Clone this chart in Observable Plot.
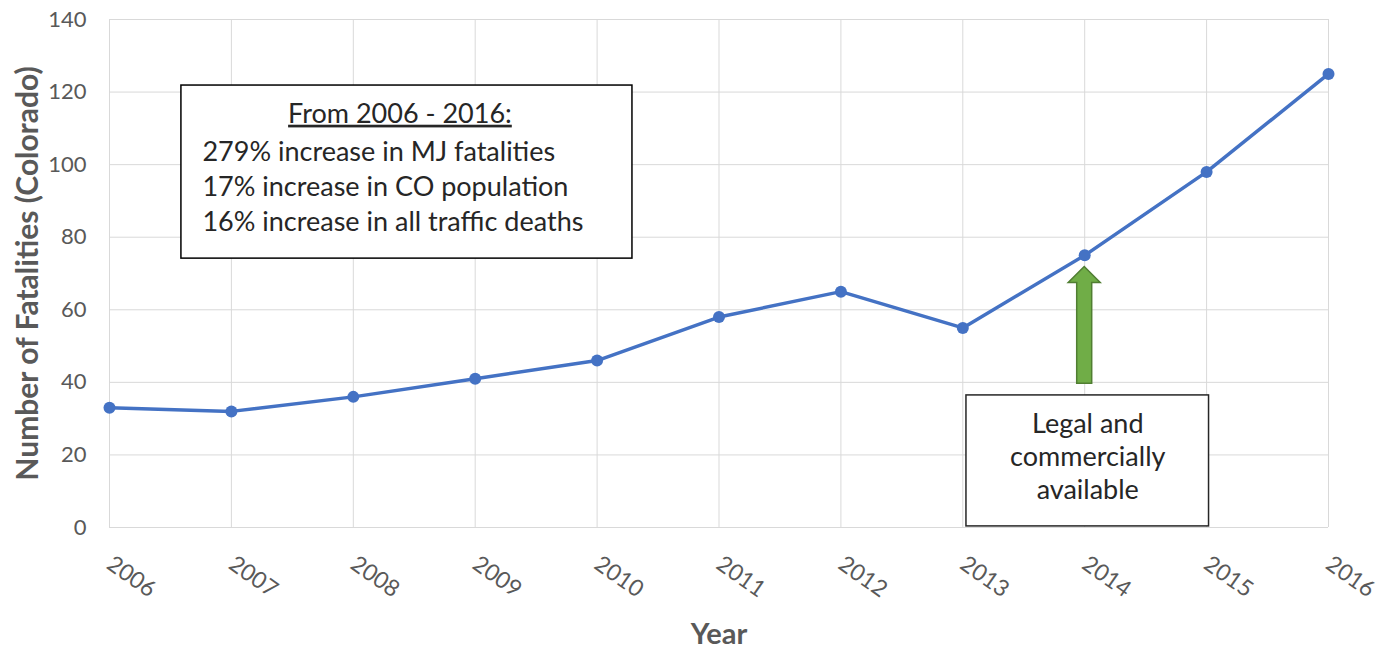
<!DOCTYPE html>
<html>
<head>
<meta charset="utf-8">
<script src="https://cdn.jsdelivr.net/npm/d3@7"></script>
<script src="https://cdn.jsdelivr.net/npm/@observablehq/plot@0.6"></script>
<style>
  html, body { margin: 0; padding: 0; background: #fff; }
  svg { font-family: Lato, "Open Sans", sans-serif; }
</style>
</head>
<body>
<div id="chart"></div>
<script>
// ---- data ----
const years = [2006, 2007, 2008, 2009, 2010, 2011, 2012, 2013, 2014, 2015, 2016];
const fatalities = [33, 32, 36, 41, 46, 58, 65, 55, 75, 98, 125];
const yTicks = [0, 20, 40, 60, 80, 100, 120, 140];
const yLabel = "Number of Fatalities (Colorado)";
const xLabel = "Year";
const statsTitle = "From 2006 - 2016:";
const statsLines = ["279% increase in MJ fatalities", "17% increase in CO population", "16% increase in all traffic deaths"];
const legalLines = ["Legal and", "commercially", "available"];
const legalYear = 2014;

// ---- annotation placement (data units) ----
const box1 = {x1: 2006.59, x2: 2010.29, y1: 74.1, y2: 121.8};
const box2 = {x1: 2013.03, x2: 2015.02, y1: 0.3, y2: 36.4};
const arrowSpan = {bottom: 39.6, top: 71.8};

const data = years.map((year, i) => ({year, value: fatalities[i]}));

const grey = "#595959";
const ink = "#262626";

function arrowMark(index, scales) {
  const cx = scales.x(legalYear);
  const yt = scales.y(arrowSpan.top);
  const yb = scales.y(arrowSpan.bottom);
  const head = 16, shaft = 7.5, headH = 16;
  const d = `M${cx},${yt} L${cx + head},${yt + headH} L${cx + shaft},${yt + headH} L${cx + shaft},${yb} L${cx - shaft},${yb} L${cx - shaft},${yt + headH} L${cx - head},${yt + headH} Z`;
  const p = document.createElementNS("http://www.w3.org/2000/svg", "path");
  p.setAttribute("d", d);
  p.setAttribute("fill", "#70AD47");
  p.setAttribute("stroke", "#507E32");
  p.setAttribute("stroke-width", "1.5");
  const g = document.createElementNS("http://www.w3.org/2000/svg", "g");
  g.appendChild(p);
  return g;
}

const statsMarks = statsLines.map((line, i) =>
  Plot.text([line], {x: box1.x1, y: box1.y2, textAnchor: "start", lineAnchor: "top", dx: 21, dy: 56 + i * 35, fontSize: 27, fill: ink})
);
const legalMarks = legalLines.map((line, i) =>
  Plot.text([line], {x: (box2.x1 + box2.x2) / 2, y: box2.y2, lineAnchor: "top", dy: 18 + i * 33, fontSize: 27, fill: ink})
);

const chart = Plot.plot({
  width: 1395,
  height: 651,
  marginLeft: 109,
  marginRight: 67,
  marginTop: 19,
  marginBottom: 124,
  style: {color: grey, background: "#fff"},
  x: {domain: [2006, 2016], axis: null},
  y: {domain: [0, 140], axis: null},
  marks: [
    Plot.gridX(years, {stroke: "#d9d9d9", strokeOpacity: 1}),
    Plot.gridY(yTicks, {stroke: "#d9d9d9", strokeOpacity: 1}),
    Plot.axisY(yTicks, {tickSize: 0, tickPadding: 23, fontSize: 22, fill: grey, label: null}),
    Plot.text(years, {x: d => d, text: d => String(d), frameAnchor: "bottom", rotate: 35, textAnchor: "start", lineAnchor: "middle", dx: 0, dy: 34, fontSize: 23, fill: grey}),
    Plot.text([yLabel], {frameAnchor: "left", rotate: -90, textAnchor: "middle", lineAnchor: "middle", dx: -81, fontSize: 30, fontWeight: "bold", fill: grey}),
    Plot.text([xLabel], {frameAnchor: "bottom", lineAnchor: "middle", dy: 107, fontSize: 29, fontWeight: "bold", fill: grey}),
    Plot.line(data, {x: "year", y: "value", stroke: "#4472C4", strokeWidth: 3.5}),
    Plot.dot(data, {x: "year", y: "value", r: 6, fill: "#4472C4"}),
    // stats box
    Plot.rect([box1], {x1: "x1", x2: "x2", y1: "y1", y2: "y2", fill: "white", stroke: "black", strokeWidth: 1.5}),
    Plot.text([statsTitle], {x: (box1.x1 + box1.x2) / 2, y: box1.y2, lineAnchor: "top", dx: -7, dy: 18, fontSize: 27, fill: ink}),
    ...statsMarks,
    // legal box + arrow
    arrowMark,
    Plot.rect([box2], {x1: "x1", x2: "x2", y1: "y1", y2: "y2", fill: "white", stroke: ink, strokeWidth: 1.5}),
    ...legalMarks
  ]
});

document.getElementById("chart").appendChild(chart);

// underline the stats title
chart.querySelectorAll("text").forEach(t => {
  if (t.textContent === statsTitle) t.setAttribute("text-decoration", "underline");
});
</script>
</body>
</html>
